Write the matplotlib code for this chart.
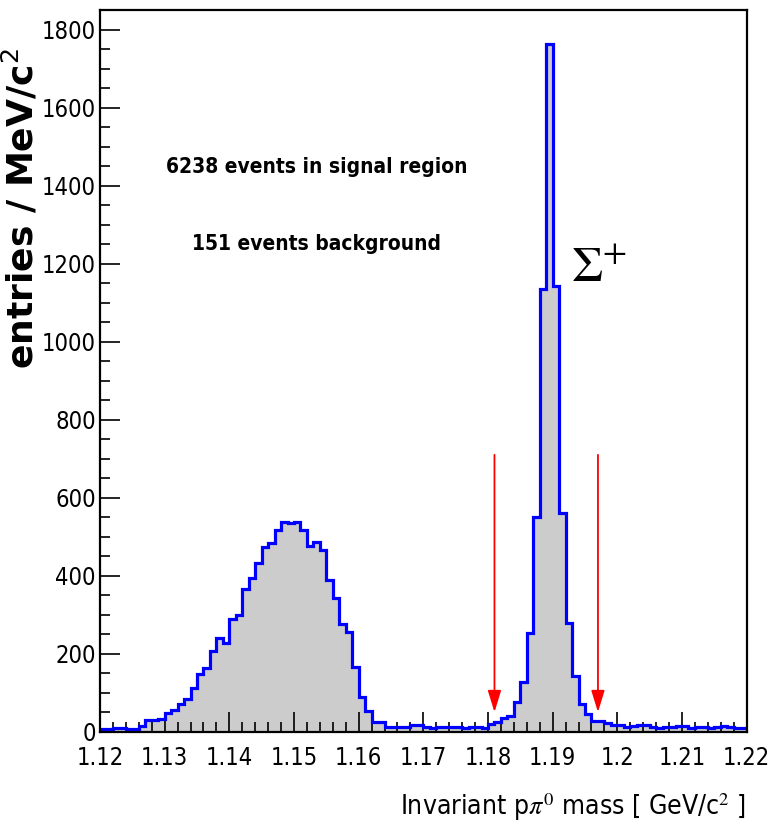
import numpy as np
import matplotlib
matplotlib.use("Agg")
import matplotlib.pyplot as plt
from matplotlib.ticker import MultipleLocator

# p pi0 invariant mass histogram, 1 MeV bins from 1.12 to 1.22 GeV/c^2
mass_lo, mass_hi, n_bins = 1.12, 1.22, 100
counts = [
    8, 8, 9, 9, 8, 8, 14, 29, 30, 33,
    47, 55, 70, 83, 113, 148, 164, 207, 241, 228,
    290, 300, 367, 394, 433, 474, 484, 518, 538, 535,
    538, 516, 476, 487, 465, 388, 344, 277, 256, 166,
    89, 53, 25, 25, 12, 12, 13, 12, 16, 18,
    11, 10, 11, 11, 11, 12, 10, 12, 11, 10,
    20, 25, 35, 40, 77, 128, 252, 551, 1136, 1763,
    1144, 562, 279, 142, 72, 44, 28, 26, 22, 17,
    16, 12, 14, 18, 16, 13, 10, 12, 12, 15,
    14, 10, 12, 13, 10, 12, 14, 11, 10, 10,
]
# signal window limits
cut_lo, cut_hi = 1.181, 1.197
arrow_top, arrow_tip = 710, 50

x_ticks = [1.12, 1.13, 1.14, 1.15, 1.16, 1.17, 1.18, 1.19, 1.2, 1.21, 1.22]
x_tick_labels = ["1.12", "1.13", "1.14", "1.15", "1.16", "1.17", "1.18",
                 "1.19", "1.2", "1.21", "1.22"]
y_ticks = [0, 200, 400, 600, 800, 1000, 1200, 1400, 1600, 1800]

narrow = dict(family=["DejaVu Sans"], stretch="condensed")

edges = np.linspace(mass_lo, mass_hi, n_bins + 1)
values = np.array(counts, dtype=float)

fig = plt.figure(figsize=(7.69, 8.33), dpi=100)
ax = fig.add_axes([0.130, 0.1217, 0.841, 0.8663])

ax.stairs(values, edges, fill=True, color="#cccccc", zorder=1)
ax.stairs(values, edges, baseline=None, color="#0000ff", lw=2.3, zorder=2)

ax.set_xlim(mass_lo, mass_hi)
ax.set_ylim(0, 1.05 * values.max())

ax.set_xticks(x_ticks)
ax.set_xticklabels(x_tick_labels)
ax.set_yticks(y_ticks)
ax.xaxis.set_minor_locator(MultipleLocator(0.002))
ax.yaxis.set_minor_locator(MultipleLocator(50))
ax.tick_params(which="both", direction="in", top=False, right=False,
               width=1.2, color="black")
ax.tick_params(which="major", length=14.5)
ax.tick_params(which="minor", length=7.2)
ax.tick_params(axis="x", which="major", pad=10)
ax.tick_params(axis="y", which="major", pad=3)
for lab in ax.get_xticklabels() + ax.get_yticklabels():
    lab.set_family(narrow["family"])
    lab.set_stretch(narrow["stretch"])
    lab.set_fontsize(17)
for sp in ax.spines.values():
    sp.set_linewidth(1.6)

for xc in (cut_lo, cut_hi):
    ax.annotate("", xy=(xc, arrow_tip), xytext=(xc, arrow_top),
                arrowprops=dict(arrowstyle="-|>,head_length=0.55,head_width=0.17",
                                color="#ff0000", lw=1.3, shrinkA=0, shrinkB=0,
                                mutation_scale=24),
                zorder=3)

ax.text(1.1535, 1448, "6238 events in signal region", **narrow,
        weight="bold", fontsize=15, ha="center", va="center")
ax.text(1.1535, 1250, "151 events background", **narrow,
        weight="bold", fontsize=15, ha="center", va="center")
ax.text(1.1928, 1190, r"$\Sigma^{+}$", math_fontfamily="stix",
        fontsize=36, ha="left", va="center")

fig.text(746 / 769, 1 - 807 / 833, r"Invariant p$\pi^{0}$ mass [ GeV/c$^{2}$ ]",
         **narrow, math_fontfamily="stix", fontsize=19,
         ha="right", va="center")
fig.text(21 / 769, 1 - 48 / 833, r"entries / MeV/c$^{2}$",
         family=["DejaVu Sans"], weight="bold",
         fontsize=26, rotation=90, ha="center", va="top")

fig.savefig("out.png", dpi=100)
